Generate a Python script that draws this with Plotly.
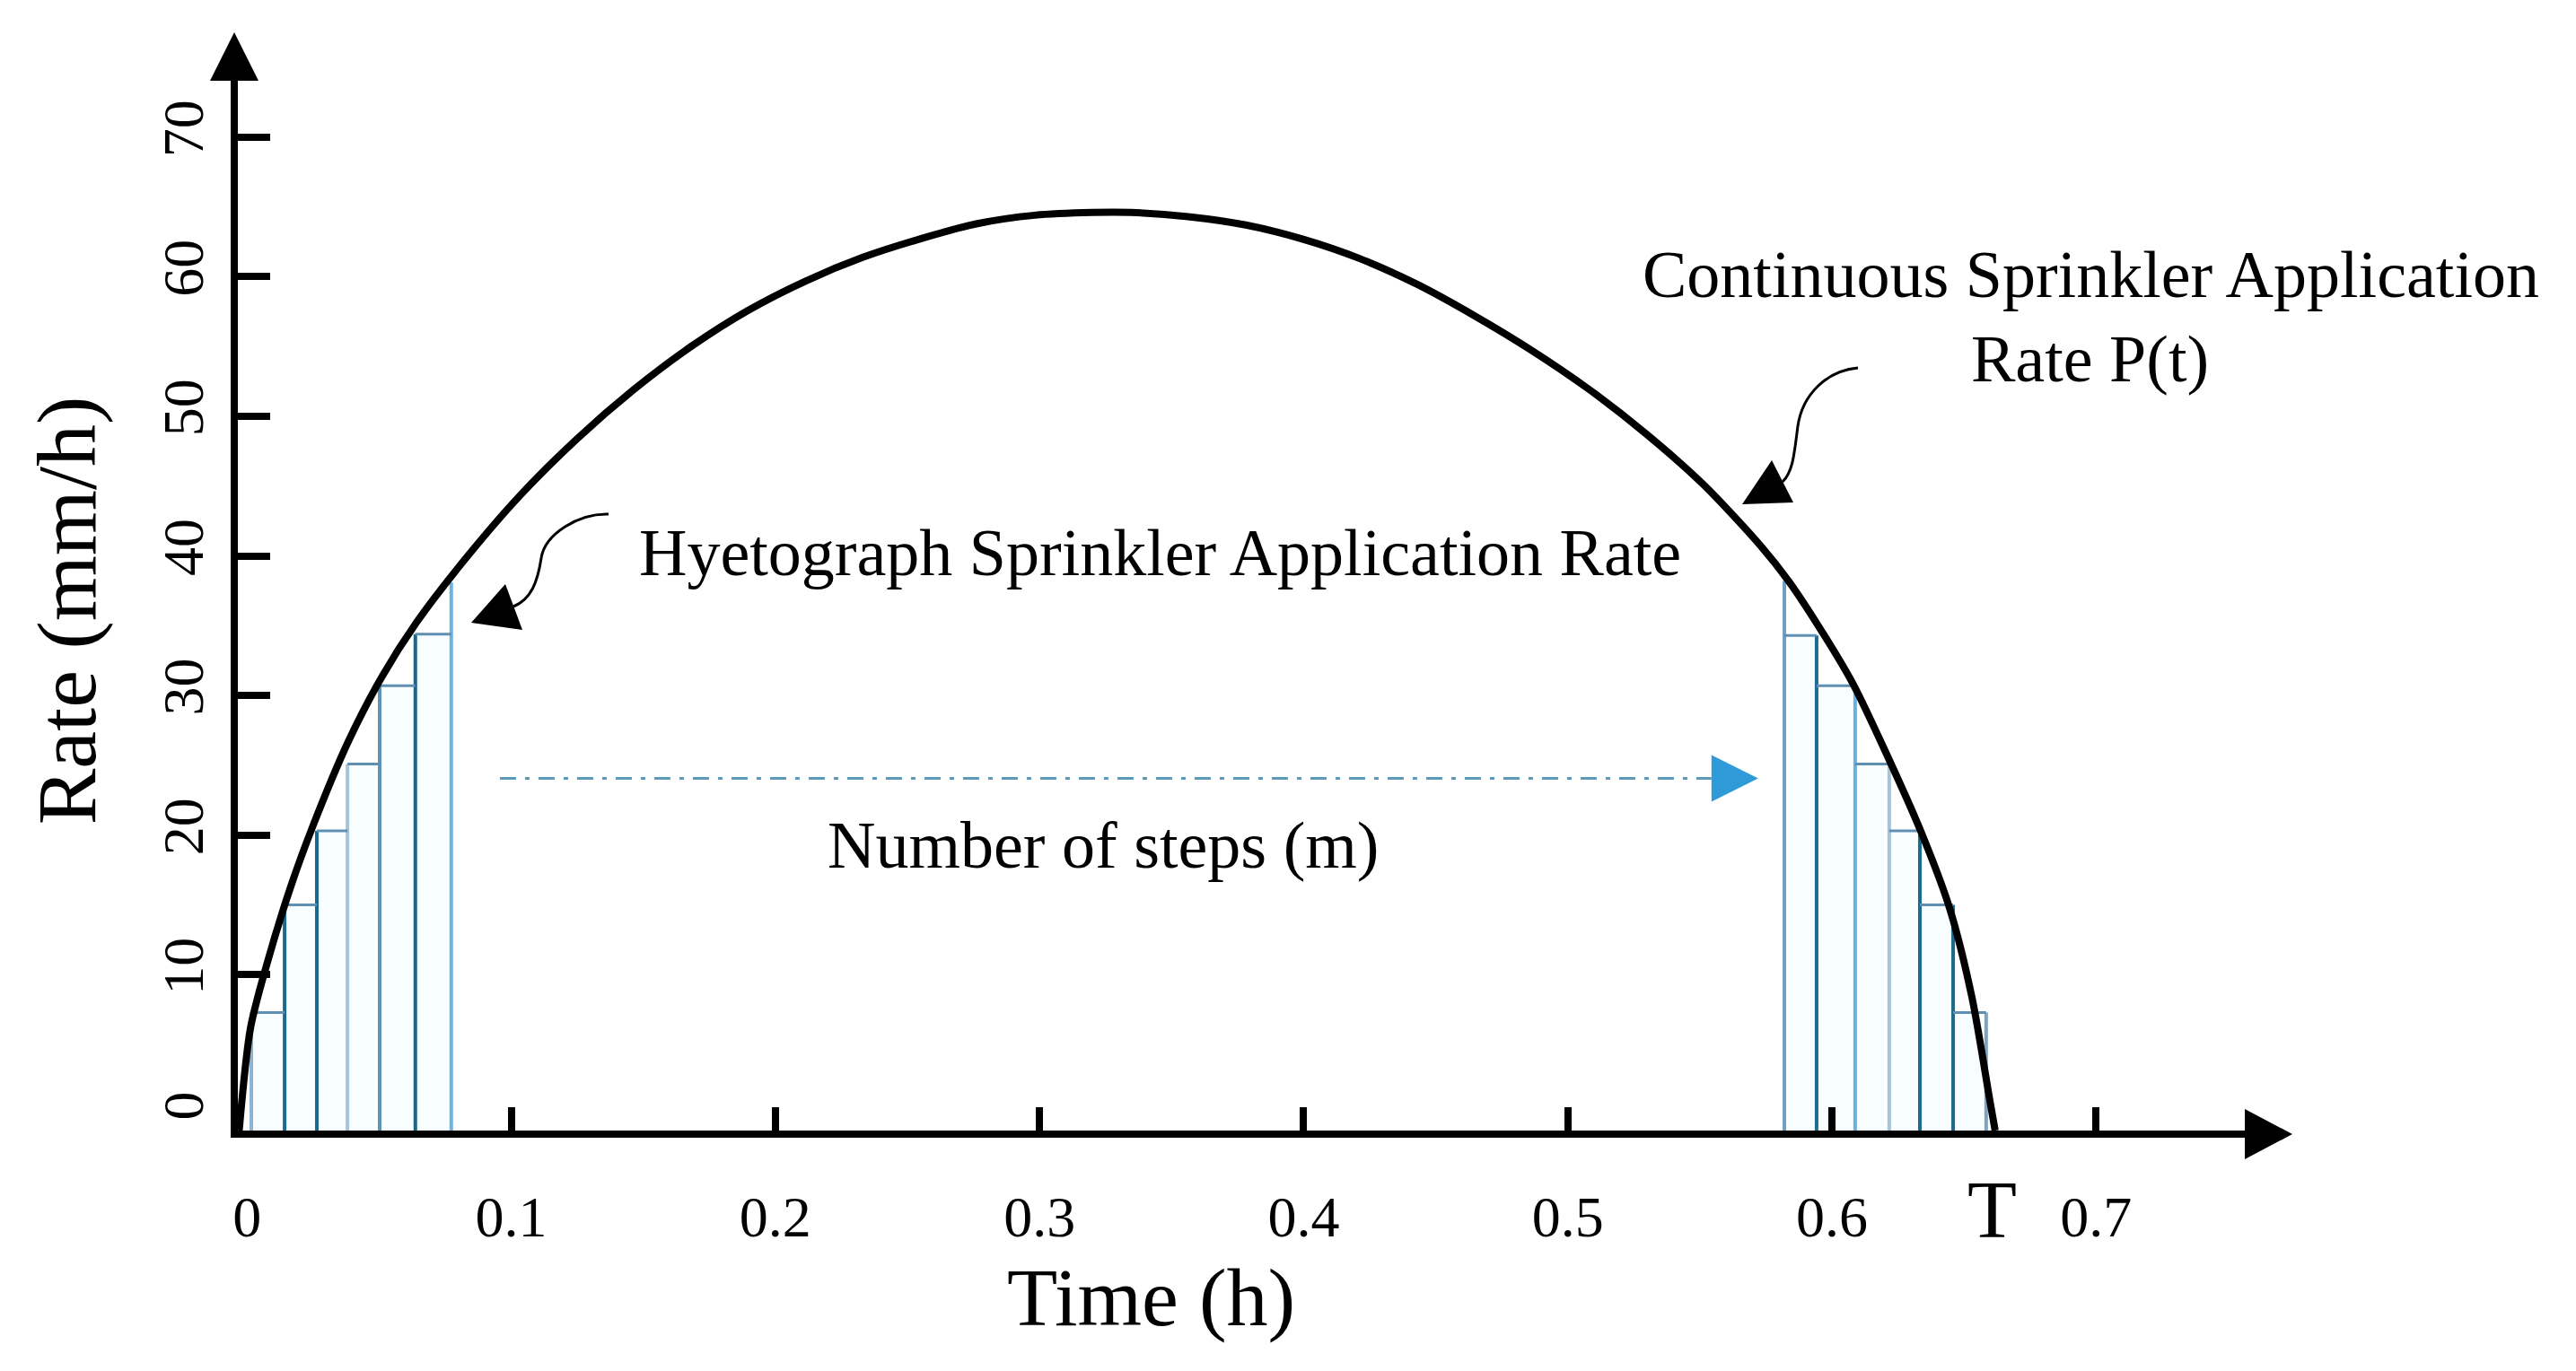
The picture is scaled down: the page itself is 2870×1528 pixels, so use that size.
import plotly.graph_objects as go

# continuous sprinkler application rate P(t)
CURVE_T = [-0.003, 0.0013, 0.0077, 0.0165, 0.025, 0.0383, 0.0512, 0.064, 0.0814, 0.1032,
           0.125, 0.1463, 0.1681, 0.1898, 0.2116, 0.2333, 0.2547, 0.2765, 0.2982, 0.32,
           0.3346, 0.3563, 0.3781, 0.3995, 0.4212, 0.443, 0.4647, 0.4861, 0.5079, 0.5296,
           0.5514, 0.5731, 0.5836, 0.5945, 0.6078, 0.6207, 0.6336, 0.6445, 0.653, 0.6597,
           0.6618]
CURVE_P = [-1.157, 6.2, 10.9, 16.3, 20.7, 26.7, 31.4, 35.2, 39.5, 44.3,
           48.4, 51.9, 55.0, 57.6, 59.7, 61.4, 62.7, 63.8, 64.4, 64.6,
           64.6, 64.3, 63.7, 62.7, 61.3, 59.45, 57.2, 54.75, 51.95, 48.75,
           45.1, 40.7, 38.2, 35.1, 30.9, 25.8, 20.3, 14.8, 8.4, 1.1,
           -1.157]

# hyetograph steps: rising limb and falling limb (edge times, rate at each edge)
RISE_EDGES = [0.0016, 0.0142, 0.0264, 0.0380, 0.0502, 0.0637, 0.0773]
RISE_RATES = [7.3, 15.0, 20.3, 25.1, 30.7, 34.4, 38.1]
FALL_EDGES = [0.5820, 0.5942, 0.6088, 0.6217, 0.6333, 0.6459, 0.6584]
FALL_RATES = [38.2, 34.3, 30.7, 25.1, 20.3, 15.0, 7.3]

RISE_COLORS = ['#8fb4cf', '#1b6a90', '#176a8f', '#a6c4dc', '#5d93b5', '#17678c', '#6db3de']
FALL_COLORS = ['#6f9fc4', '#1b6a90', '#6ab0dc', '#a9c2d6', '#1b6a90', '#1b6a90', '#7fa3bf']

X_TICKS = [0, 0.1, 0.2, 0.3, 0.4, 0.5, 0.6, 0.7]
X_LABELS = ['0', '0.1', '0.2', '0.3', '0.4', '0.5', '0.6', '0.7']
Y_TICKS = [0, 10, 20, 30, 40, 50, 60, 70]
Y_LABELS = ['0', '10', '20', '30', '40', '50', '60', '70']

T_END = 0.6618
STEP_ARROW_T = [0.0957, 0.5544]
STEP_ARROW_P = 24.07

SERIF = 'Liberation Serif'
X_RANGE = [-0.0035, 0.757]
Y_RANGE = [-1.157, 74.16]
FLOOR = Y_RANGE[0]   # bars stand on the drawn time axis

fig = go.Figure()

# step bars (rising limb uses the left edge rate, falling limb the right edge rate)
bars = list(zip(RISE_EDGES[:-1], RISE_EDGES[1:], RISE_RATES[:-1])) + \
       list(zip(FALL_EDGES[:-1], FALL_EDGES[1:], FALL_RATES[1:]))

for x0, x1, h in bars:
    fig.add_trace(go.Scatter(x=[x0, x0, x1, x1, x0], y=[FLOOR, h, h, FLOOR, FLOOR],
                             mode='lines', fill='toself', fillcolor='#f8feff',
                             line=dict(width=0), hoverinfo='skip'))

# vertical step lines
for edges, rates, colors in [(RISE_EDGES, RISE_RATES, RISE_COLORS),
                             (FALL_EDGES, FALL_RATES, FALL_COLORS)]:
    for x, h, c in zip(edges, rates, colors):
        fig.add_trace(go.Scatter(x=[x, x], y=[FLOOR, h], mode='lines',
                                 line=dict(color=c, width=4), hoverinfo='skip'))

# step tops
top_x, top_y = [], []
for x0, x1, h in bars:
    top_x += [x0, x1, None]
    top_y += [h, h, None]
fig.add_trace(go.Scatter(x=top_x, y=top_y, mode='lines',
                         line=dict(color='#5f8fb2', width=3), hoverinfo='skip'))

# continuous curve
fig.add_trace(go.Scatter(x=CURVE_T, y=CURVE_P, mode='lines',
                         line=dict(color='black', width=8, shape='spline', smoothing=0.8),
                         hoverinfo='skip'))

# number of steps arrow
fig.add_trace(go.Scatter(x=STEP_ARROW_T, y=[STEP_ARROW_P] * 2, mode='lines',
                         line=dict(color='#5b9ab8', width=3, dash='18px,10px,5px,10px'),
                         hoverinfo='skip'))

# invisible trace so the tick-only overlay axes get drawn
fig.add_trace(go.Scatter(x=[X_RANGE[0]], y=[Y_RANGE[0]], xaxis='x2', yaxis='y2',
                         mode='markers', marker=dict(opacity=0), hoverinfo='skip'))

px_shape = dict(xsizemode='pixel', ysizemode='pixel', type='path')
shapes = [
    # axis arrowheads
    dict(px_shape, xref='paper', yref='paper', xanchor=0, yanchor=1,
         path='M -31 -2 L 23 -2 L -4 52 Z', fillcolor='black', line=dict(width=0)),
    dict(px_shape, xref='paper', yref='paper', xanchor=1, yanchor=0,
         path='M -2 24 L -2 -32 L 51 -4 Z', fillcolor='black', line=dict(width=0)),
    # dash-dot arrowhead
    dict(px_shape, xref='x', yref='y', xanchor=STEP_ARROW_T[1], yanchor=STEP_ARROW_P,
         path='M 0 26 L 0 -26 L 52 0 Z', fillcolor='#2f9ad8', line=dict(width=0)),
    # curly pointer to the hyetograph
    dict(px_shape, xref='paper', yref='paper', xanchor=0, yanchor=0,
         path='M 413 687 C 380 688 342 665 338 638 C 334 612 327 592 307 584',
         line=dict(color='black', width=3)),
    dict(px_shape, xref='paper', yref='paper', xanchor=0, yanchor=0,
         path='M 260 566 L 298 609 L 317 558 Z', fillcolor='black', line=dict(width=0)),
    # curly pointer to the continuous curve
    dict(px_shape, xref='paper', yref='paper', xanchor=0, yanchor=0,
         path='M 1805 850 C 1770 847 1743 820 1738 785 C 1734 755 1733 735 1721 723',
         line=dict(color='black', width=3)),
    dict(px_shape, xref='paper', yref='paper', xanchor=0, yanchor=0,
         path='M 1676 698 L 1709 747 L 1733 700 Z', fillcolor='black', line=dict(width=0)),
]


def label(text, x, y, size, xref='x', yref='y', angle=0):
    return dict(text=text, x=x, y=y, xref=xref, yref=yref, showarrow=False,
                textangle=angle, font=dict(family=SERIF, size=size, color='black'),
                xanchor='center', yanchor='middle')


annotations = [
    label('Continuous Sprinkler Application', 0.6982, 60.15, 74),
    label('Rate P(t)', 0.6978, 54.1, 74),
    label('Hyetograph Sprinkler Application Rate', 0.3455, 40.2, 74),
    label('Number of steps (m)', 0.3241, 19.3, 74),
    label('T', T_END - 0.0012, -0.0751, 90, yref='paper'),
    label('Time (h)', 0.3424, -0.1587, 92, yref='paper'),
    label('Rate (mm/h)', -0.0853, 36.1, 94, xref='paper', angle=-90),
]

axis_common = dict(showgrid=False, zeroline=False)
fig.update_layout(
    width=2870, height=1528,
    margin=dict(l=265, r=367, t=88, b=268),
    paper_bgcolor='white', plot_bgcolor='white',
    showlegend=False,
    xaxis=dict(axis_common, range=X_RANGE, showline=True, linecolor='black', linewidth=8,
               tickmode='array', tickvals=X_TICKS, ticktext=X_LABELS, ticks='',
               tickfont=dict(family=SERIF, size=64, color='black'), ticklabelstandoff=33),
    xaxis2=dict(axis_common, range=X_RANGE, overlaying='x', anchor='y', side='bottom',
                showline=False, tickmode='array', tickvals=X_TICKS[1:], ticks='inside',
                ticklen=26, tickwidth=8, tickcolor='black', showticklabels=False),
    yaxis=dict(axis_common, range=Y_RANGE, showline=True, linecolor='black', linewidth=8,
               tickmode='array', tickvals=Y_TICKS, ticktext=Y_LABELS, ticks='', tickangle=-90,
               tickfont=dict(family=SERIF, size=64, color='black'), ticklabelstandoff=5),
    yaxis2=dict(axis_common, range=Y_RANGE, overlaying='y', anchor='x', side='left',
                showline=False, tickmode='array', tickvals=Y_TICKS[1:], ticks='inside',
                ticklen=36, tickwidth=8, tickcolor='black', showticklabels=False),
    shapes=shapes,
    annotations=annotations,
)

fig.write_html("out.html", config={'displayModeBar': False},
               post_script="document.body.style.margin='0';")
